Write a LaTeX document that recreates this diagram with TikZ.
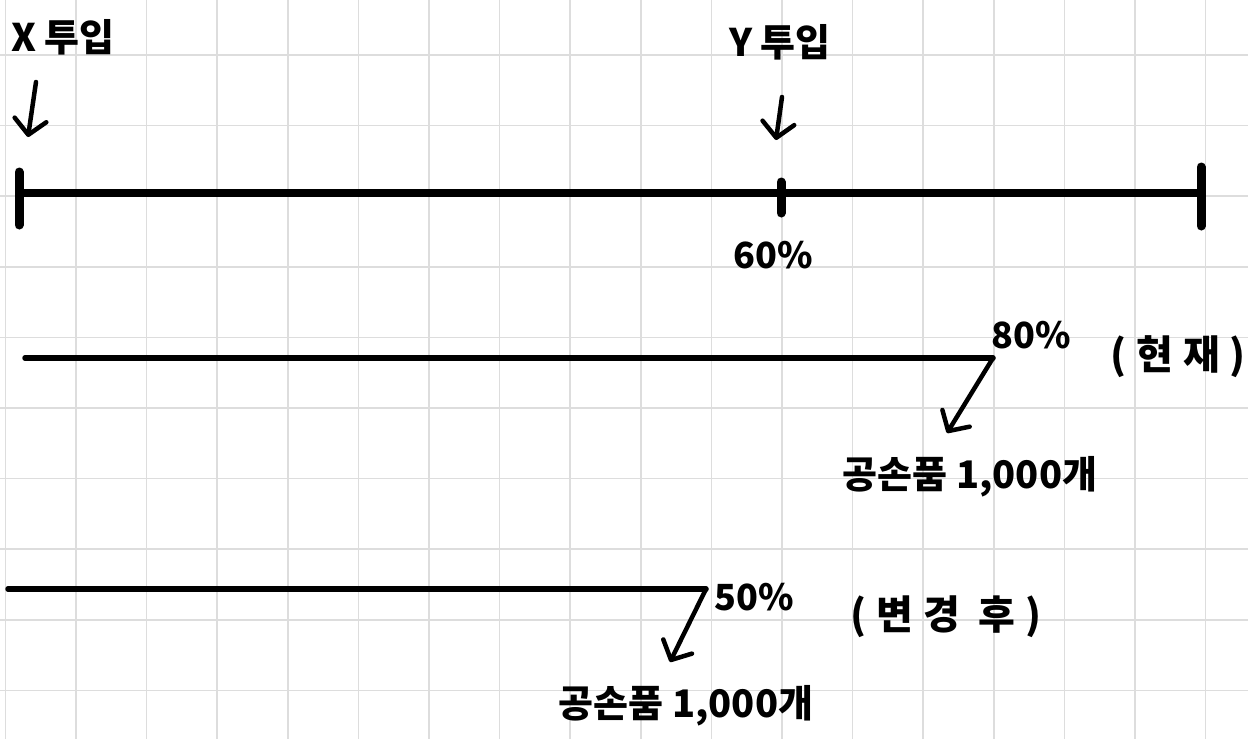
\documentclass[tikz,border=0pt]{standalone}
\usepackage{fontspec}
\usepackage{tikz}
\usetikzlibrary{arrows.meta,positioning,calc}
\newfontfamily\krfont{Noto Sans CJK KR}
\definecolor{gridc}{RGB}{221,221,221}

\begin{document}
\begin{tikzpicture}[x=1pt,y=-1pt,
  gridline/.style={draw=gridc,line width=1.6pt},
  bar/.style={line width=8pt,line cap=round},
  tick/.style={line width=9pt,line cap=round},
  span/.style={line width=5.5pt,line cap=round},
  hand/.style={-{Straight Barb[length=15pt,width=32pt,line width=4.5pt,round]},line width=4.5pt,line cap=round},
  lbl/.style={inner sep=0pt,font=\krfont\bfseries\fontsize{38}{44}\selectfont},
  pct/.style={inner sep=0pt,font=\krfont\bfseries\fontsize{36}{40}\selectfont},
  note/.style={inner sep=0pt,font=\krfont\bfseries\fontsize{40}{44}\selectfont\addfontfeature{LetterSpace=25}}
]
\useasboundingbox (0,0) rectangle (1248,739);
% grid paper
\foreach \i in {0,...,17}
  \draw[gridline] ({5.3+70.6*\i},0) -- ({5.3+70.6*\i},739);
\foreach \j in {1,...,10}
  \draw[gridline] (0,{-15.6+70.6*\j}) -- (1248,{-15.6+70.6*\j});

% whole process
\coordinate (start) at (19,193);
\coordinate (stop) at (1201,193);
\coordinate (mid) at (781,193);
\draw[bar] (start) -- (stop);
\draw[tick] (19,172) -- (19,225);
\draw[tick] (1201,167) -- (1201,226);
\draw[tick] (781,182) -- (781,213);

\node[lbl] (xin) at (63,37) {X 투입};
\node[lbl] (yin) at (780,42) {Y 투입};
\node[pct] (p60) at (773,255) {60\%};
\coordinate (xs) at (36,82);
\coordinate (xt) at (28,137);
\coordinate (ys) at (782,97);
\coordinate (yt) at (776,140);
\draw[hand] (xs) -- (xt);
\draw[hand] (ys) -- (yt);

% inspection at 80%
\coordinate (s80) at (25,358);
\coordinate (e80) at (993,358);
\coordinate (t80) at (947,433);
\draw[span] (s80) -- (e80);
\draw[hand] (e80) -- (t80);
\node[pct] (p80) at (1031,335) {80\%};
\node[note] (now) at (1178,357) {(현재)};
\node[lbl] (sp80) at (970,477) {공손품 1,000개};

% inspection at 50%
\coordinate (s50) at (8,589);
\coordinate (e50) at (706,589);
\coordinate (t50) at (670,662);
\draw[span] (s50) -- (e50);
\draw[hand] (e50) -- (t50);
\node[pct] (p50) at (754,597) {50\%};
\node[note] (after) at (946,617) {(변경 후)};
\node[lbl] (sp50) at (686,706) {공손품 1,000개};
\end{tikzpicture}
\end{document}
